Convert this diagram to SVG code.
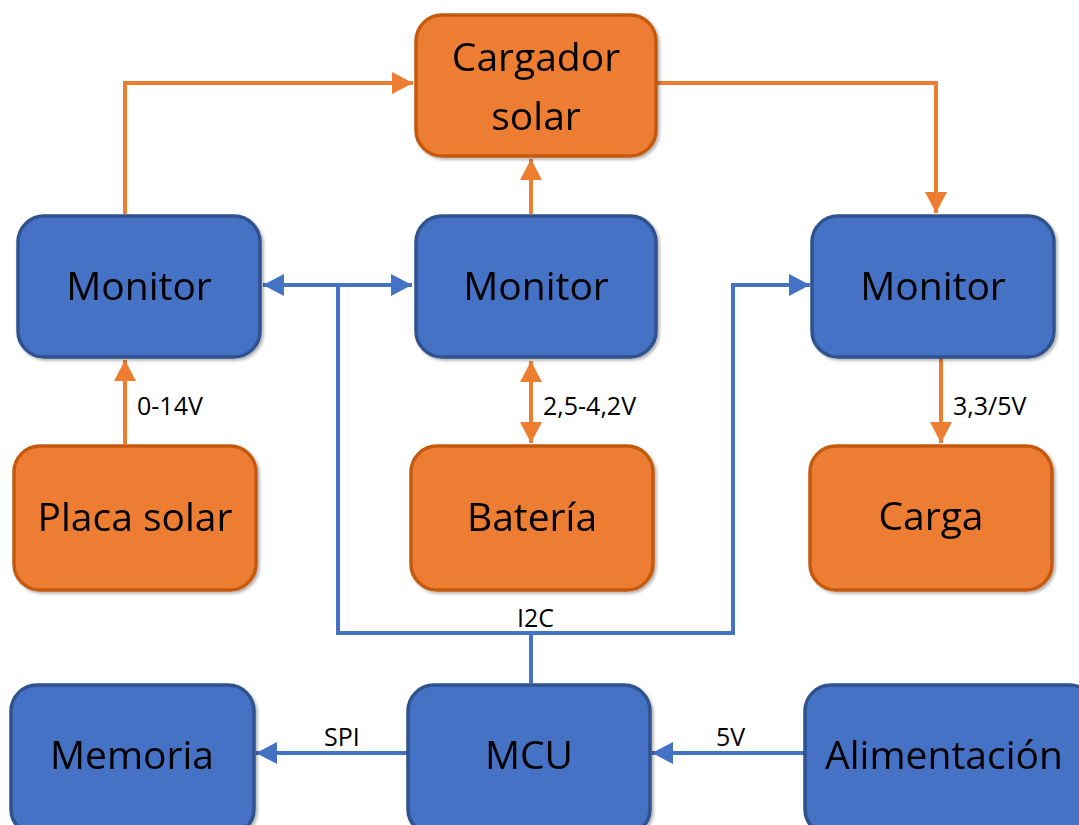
<svg xmlns="http://www.w3.org/2000/svg" width="1079" height="825" viewBox="0 0 1079 825">
<style>
.o{fill:#ED7D31;stroke:#C55A11;stroke-width:3.5}
.b{fill:#4472C4;stroke:#2F528F;stroke-width:3.5}
.t{font-family:"Open Sans","Noto Sans",sans-serif;font-size:39px;fill:#000;text-anchor:middle}
.l{font-family:"Open Sans","Noto Sans",sans-serif;font-size:25px;fill:#000}
.co{fill:none;stroke:#ED7D31;stroke-width:4}
.cb{fill:none;stroke:#4472C4;stroke-width:4}
</style>
<defs>
<filter id="sh" x="-10%" y="-10%" width="125%" height="125%">
<feDropShadow dx="2" dy="2" stdDeviation="1.5" flood-color="#000" flood-opacity="0.3"/>
</filter>
<marker id="ao" markerWidth="22" markerHeight="24" refX="21" refY="12" orient="auto-start-reverse" markerUnits="userSpaceOnUse">
<path d="M0,1 L21,12 L0,23 Z" fill="#ED7D31"/>
</marker>
<marker id="ab" markerWidth="22" markerHeight="24" refX="21" refY="12" orient="auto-start-reverse" markerUnits="userSpaceOnUse">
<path d="M0,1 L21,12 L0,23 Z" fill="#4472C4"/>
</marker>
</defs>
<rect width="1079" height="825" fill="#fff"/>
<g id="connectors">
<path class="co" d="M125,214 V83 H413" marker-end="url(#ao)"/>
<path class="co" d="M657,83 H936 V213" marker-end="url(#ao)"/>
<path class="co" d="M531,214 V159" marker-end="url(#ao)"/>
<path class="co" d="M125,444 V360" marker-end="url(#ao)"/>
<path class="co" d="M531,361 V443" marker-start="url(#ao)" marker-end="url(#ao)"/>
<path class="co" d="M941,358 V443" marker-end="url(#ao)"/>
<path class="cb" d="M263,285 H412" marker-start="url(#ab)" marker-end="url(#ab)"/>
<path class="cb" d="M338,285 V633 H733 V285 H810" marker-end="url(#ab)"/>
<path class="cb" d="M531,683 V633"/>
<path class="cb" d="M407,753 H256" marker-end="url(#ab)"/>
<path class="cb" d="M804,753 H652" marker-end="url(#ab)"/>
<text class="l" x="137" y="415">0-14V</text>
<text class="l" x="543" y="415">2,5-4,2V</text>
<text class="l" x="953" y="415">3,3/5V</text>
<text class="l" x="517" y="627">I2C</text>
<text class="l" x="324" y="746">SPI</text>
<text class="l" x="716" y="746">5V</text>
</g>
<g id="cargador" filter="url(#sh)"><rect class="o" x="416" y="15" width="240" height="141" rx="26"/><text class="t" x="536" y="71">Cargador</text><text class="t" x="536" y="130">solar</text></g>
<g id="monitor1" filter="url(#sh)"><rect class="b" x="18" y="216" width="242" height="141" rx="26"/><text class="t" x="139" y="300">Monitor</text></g>
<g id="monitor2" filter="url(#sh)"><rect class="b" x="416" y="216" width="240" height="141" rx="26"/><text class="t" x="536" y="300">Monitor</text></g>
<g id="monitor3" filter="url(#sh)"><rect class="b" x="812" y="216" width="242" height="141" rx="26"/><text class="t" x="933" y="300">Monitor</text></g>
<g id="placa" filter="url(#sh)"><rect class="o" x="14" y="446" width="242" height="144" rx="26"/><text class="t" x="135" y="531">Placa solar</text></g>
<g id="bateria" filter="url(#sh)"><rect class="o" x="411" y="446" width="242" height="144" rx="26"/><text class="t" x="532" y="531">Batería</text></g>
<g id="carga" filter="url(#sh)"><rect class="o" x="810" y="446" width="242" height="144" rx="26"/><text class="t" x="931" y="530">Carga</text></g>
<g id="memoria" filter="url(#sh)"><rect class="b" x="11" y="685" width="243" height="150" rx="26"/><text class="t" x="132" y="769">Memoria</text></g>
<g id="mcu" filter="url(#sh)"><rect class="b" x="408" y="685" width="242" height="150" rx="26"/><text class="t" x="529" y="769">MCU</text></g>
<g id="alimentacion" filter="url(#sh)"><rect class="b" x="805" y="685" width="290" height="150" rx="26"/><text class="t" x="944" y="769">Alimentación</text></g>
</svg>
